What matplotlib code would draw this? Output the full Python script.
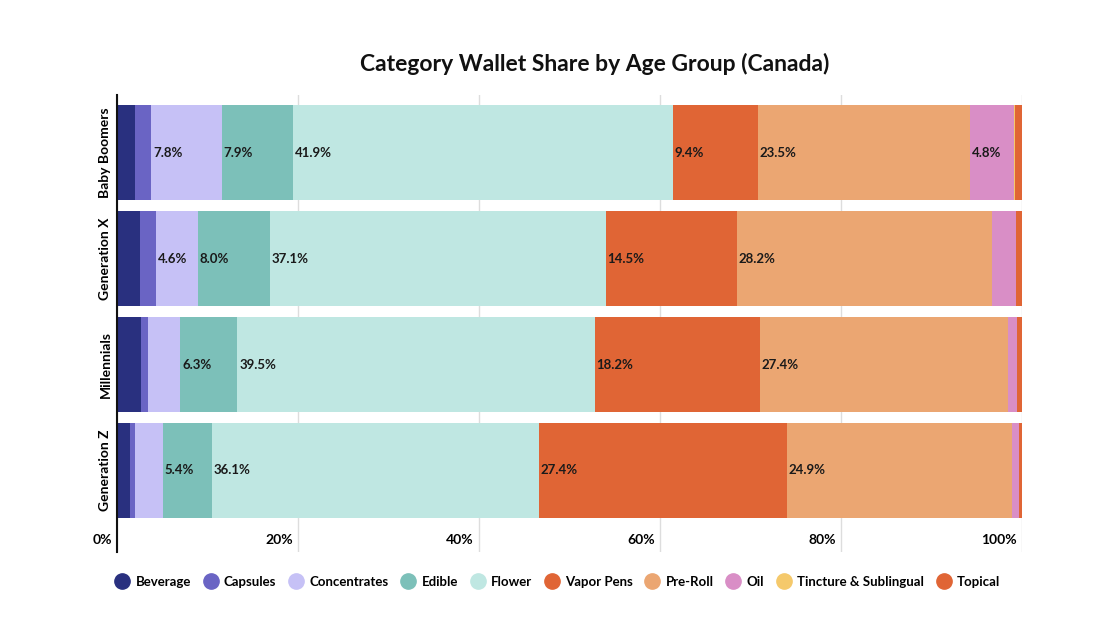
import numpy as np
import matplotlib.pyplot as plt
from matplotlib.lines import Line2D
from matplotlib.transforms import ScaledTranslation

plt.rcParams['font.family'] = ['Lato', 'DejaVu Sans']

groups = ['Baby Boomers', 'Generation X', 'Millennials', 'Generation Z']
categories = ['Beverage', 'Capsules', 'Concentrates', 'Edible', 'Flower',
              'Vapor Pens', 'Pre-Roll', 'Oil', 'Tincture & Sublingual', 'Topical']

# share (%) per category, one value per age group
beverage = [2.0, 2.5, 2.6, 1.4]
capsules = [1.8, 1.8, 0.8, 0.6]
concentrates = [7.8, 4.6, 3.6, 3.1]
edible = [7.9, 8.0, 6.3, 5.4]
flower = [41.9, 37.1, 39.5, 36.1]
vapor_pens = [9.4, 14.5, 18.2, 27.4]
pre_roll = [23.5, 28.2, 27.4, 24.9]
oil = [4.8, 2.6, 1.1, 0.8]
tincture = [0.1, 0.0, 0.0, 0.0]
topical = [0.8, 0.7, 0.5, 0.3]

series = [beverage, capsules, concentrates, edible, flower,
          vapor_pens, pre_roll, oil, tincture, topical]
colors = ['#29307f', '#6a64c4', '#c6c1f6', '#7cc0b9', '#bfe7e2',
          '#e06535', '#eba672', '#d98ec6', '#f5c96b', '#e06535']

fig = plt.figure(figsize=(11.16, 6.32), dpi=100)
W, H = 1116, 632
ax = fig.add_axes([117 / W, 1 - 552 / H, (1022 - 117) / W, (552 - 95) / H])

y = np.arange(len(groups))
left = np.zeros(len(groups))
for vals, col in zip(series, colors):
    vals = np.array(vals)
    ax.barh(y, vals, left=left, height=0.9, color=col, linewidth=0, zorder=2)
    for yi, (l, v) in enumerate(zip(left, vals)):
        if v >= 4:
            ax.text(l + 0.2, yi, f'{v:.1f}%', ha='left', va='center',
                    fontsize=9.5, fontweight='bold', color='#1a1a1a', zorder=3)
    left += vals

ax.set_xlim(0, 100)
ax.set_ylim(3 + 0.77, -0.545)

ax.set_xticks([0, 20, 40, 60, 80, 100])
ax.set_xticklabels(['0%', '20%', '40%', '60%', '80%', '100%'],
                   fontsize=10, fontweight='bold', ha='right')
ax.tick_params(axis='x', length=0, pad=-13)
off = ScaledTranslation(-5 / 100, 0, fig.dpi_scale_trans)
for lab in ax.get_xticklabels():
    lab.set_transform(lab.get_transform() + off)

ax.set_yticks(y)
ax.set_yticklabels(groups, rotation=90, va='center', fontsize=10, fontweight='bold')
ax.tick_params(axis='y', length=0, pad=4)

ax.grid(axis='x', color='#dddddd', linewidth=1, zorder=0)
ax.set_axisbelow(True)
for s in ['top', 'right', 'bottom']:
    ax.spines[s].set_visible(False)
ax.spines['left'].set_color('#111111')
ax.spines['left'].set_linewidth(1.5)
ax.spines['left'].set_zorder(4)

fig.text(595 / W, 1 - 64 / H, 'Category Wallet Share by Age Group (Canada)',
         ha='center', va='center', fontsize=16.5, fontweight='bold', color='#111111')

handles = [Line2D([], [], marker='o', linestyle='', markersize=11,
                  markerfacecolor=c, markeredgecolor=c) for c in colors]
fig.legend(handles, categories, loc='center', bbox_to_anchor=(558 / W, 1 - 582 / H),
           ncol=10, frameon=False, handlelength=1.0, handletextpad=0.5,
           columnspacing=1.0, prop={'size': 9.5, 'weight': 'bold'})

fig.savefig('out.png', dpi=100)
